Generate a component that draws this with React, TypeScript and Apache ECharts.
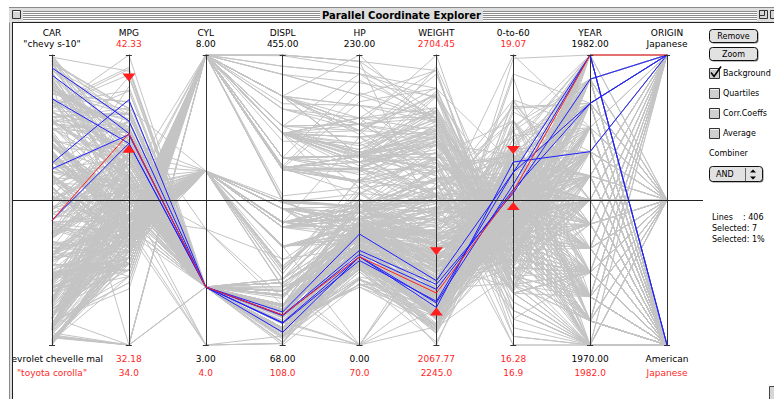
import React, { useEffect, useRef } from 'react';
import * as echarts from 'echarts';

// [name, mpg, cyl, displ, hp, weight, 0-to-60, year, origin(1 American, 2 European, 3 Japanese)]
type Car = [string, number, number, number, number, number, number, number, number];

const cars1970: Car[] = [
  ['chevrolet chevelle malibu', 18, 8, 307, 130, 3504, 12, 70, 1],
  ['buick skylark 320', 15, 8, 350, 165, 3693, 11.5, 70, 1],
  ['plymouth satellite', 18, 8, 318, 150, 3436, 11, 70, 1],
  ['amc rebel sst', 16, 8, 304, 150, 3433, 12, 70, 1],
  ['ford torino', 17, 8, 302, 140, 3449, 10.5, 70, 1],
  ['ford galaxie 500', 15, 8, 429, 198, 4341, 10, 70, 1],
  ['chevrolet impala', 14, 8, 454, 220, 4354, 9, 70, 1],
  ['plymouth fury iii', 14, 8, 440, 215, 4312, 8.5, 70, 1],
  ['pontiac catalina', 14, 8, 455, 225, 4425, 10, 70, 1],
  ['amc ambassador dpl', 15, 8, 390, 190, 3850, 8.5, 70, 1],
  ['citroen ds-21 pallas', 0, 4, 133, 115, 3090, 17.5, 70, 2],
  ['chevrolet chevelle concours (sw)', 0, 8, 350, 165, 4142, 11.5, 70, 1],
  ['ford torino (sw)', 0, 8, 351, 153, 4034, 11, 70, 1],
  ['plymouth satellite (sw)', 0, 8, 383, 175, 4166, 10.5, 70, 1],
  ['amc rebel sst (sw)', 0, 8, 360, 175, 3850, 11, 70, 1],
  ['dodge challenger se', 15, 8, 383, 170, 3563, 10, 70, 1],
  ["plymouth 'cuda 340", 14, 8, 340, 160, 3609, 8, 70, 1],
  ['ford mustang boss 302', 0, 8, 302, 140, 3353, 8, 70, 1],
  ['chevrolet monte carlo', 15, 8, 400, 150, 3761, 9.5, 70, 1],
  ['buick estate wagon (sw)', 14, 8, 455, 225, 3086, 10, 70, 1],
  ['toyota corona mark ii', 24, 4, 113, 95, 2372, 15, 70, 3],
  ['plymouth duster', 22, 6, 198, 95, 2833, 15.5, 70, 1],
  ['amc hornet', 18, 6, 199, 97, 2774, 15.5, 70, 1],
  ['ford maverick', 21, 6, 200, 85, 2587, 16, 70, 1],
  ['datsun pl510', 27, 4, 97, 88, 2130, 14.5, 70, 3],
  ['volkswagen 1131 deluxe sedan', 26, 4, 97, 46, 1835, 20.5, 70, 2],
  ['peugeot 504', 25, 4, 110, 87, 2672, 17.5, 70, 2],
  ['audi 100 ls', 24, 4, 107, 90, 2430, 14.5, 70, 2],
  ['saab 99e', 25, 4, 104, 95, 2375, 17.5, 70, 2],
  ['bmw 2002', 26, 4, 121, 113, 2234, 12.5, 70, 2],
  ['amc gremlin', 21, 6, 199, 90, 2648, 15, 70, 1],
  ['ford f250', 10, 8, 360, 215, 4615, 14, 70, 1],
  ['chevy c20', 10, 8, 307, 200, 4376, 15, 70, 1],
  ['dodge d200', 11, 8, 318, 210, 4382, 13.5, 70, 1],
  ['hi 1200d', 9, 8, 304, 193, 4732, 18.5, 70, 1],
];

const cars1971: Car[] = [
  ['datsun pl510', 27, 4, 97, 88, 2130, 14.5, 71, 3],
  ['chevrolet vega 2300', 28, 4, 140, 90, 2264, 15.5, 71, 1],
  ['toyota corona', 25, 4, 113, 95, 2228, 14, 71, 3],
  ['ford pinto', 25, 4, 98, 0, 2046, 19, 71, 1],
  ['volkswagen super beetle 117', 0, 4, 97, 48, 1978, 20, 71, 2],
  ['amc gremlin', 19, 6, 232, 100, 2634, 13, 71, 1],
  ['plymouth satellite custom', 16, 6, 225, 105, 3439, 15.5, 71, 1],
  ['chevrolet chevelle malibu', 17, 6, 250, 100, 3329, 15.5, 71, 1],
  ['ford torino 500', 19, 6, 250, 88, 3302, 15.5, 71, 1],
  ['amc matador', 18, 6, 232, 100, 3288, 15.5, 71, 1],
  ['chevrolet impala', 14, 8, 350, 165, 4209, 12, 71, 1],
  ['pontiac catalina brougham', 14, 8, 400, 175, 4464, 11.5, 71, 1],
  ['ford galaxie 500', 14, 8, 351, 153, 4154, 13.5, 71, 1],
  ['plymouth fury iii', 14, 8, 318, 150, 4096, 13, 71, 1],
  ['dodge monaco (sw)', 12, 8, 383, 180, 4955, 11.5, 71, 1],
  ['ford country squire (sw)', 13, 8, 400, 170, 4746, 12, 71, 1],
  ['pontiac safari (sw)', 13, 8, 400, 175, 5140, 12, 71, 1],
  ['amc hornet sportabout (sw)', 18, 6, 258, 110, 2962, 13.5, 71, 1],
  ['chevrolet vega (sw)', 22, 4, 140, 72, 2408, 19, 71, 1],
  ['pontiac firebird', 19, 6, 250, 100, 3282, 15, 71, 1],
  ['ford mustang', 18, 6, 250, 88, 3139, 14.5, 71, 1],
  ['mercury capri 2000', 23, 4, 122, 86, 2220, 14, 71, 1],
  ['opel 1900', 28, 4, 116, 90, 2123, 14, 71, 2],
  ['peugeot 304', 30, 4, 79, 70, 2074, 19.5, 71, 2],
  ['fiat 124b', 30, 4, 88, 76, 2065, 14.5, 71, 2],
  ['toyota corolla 1200', 31, 4, 71, 65, 1773, 19, 71, 3],
  ['datsun 1200', 35, 4, 72, 69, 1613, 18, 71, 3],
  ['volkswagen model 111', 27, 4, 97, 60, 1834, 19, 71, 2],
  ['plymouth cricket', 26, 4, 91, 70, 1955, 20.5, 71, 1],
];

const cars1972: Car[] = [
  ['toyota corona hardtop', 24, 4, 113, 95, 2278, 15.5, 72, 3],
  ['dodge colt hardtop', 25, 4, 97.5, 80, 2126, 17, 72, 1],
  ['volkswagen type 3', 23, 4, 97, 54, 2254, 23.5, 72, 2],
  ['chevrolet vega', 20, 4, 140, 90, 2408, 19.5, 72, 1],
  ['ford pinto runabout', 21, 4, 122, 86, 2226, 16.5, 72, 1],
  ['chevrolet impala', 13, 8, 350, 165, 4274, 12, 72, 1],
  ['pontiac catalina', 14, 8, 400, 175, 4385, 12, 72, 1],
  ['plymouth fury iii', 15, 8, 318, 150, 4135, 13.5, 72, 1],
  ['ford galaxie 500', 14, 8, 351, 153, 4129, 13, 72, 1],
  ['amc ambassador sst', 17, 8, 304, 150, 3672, 11.5, 72, 1],
  ['mercury marquis', 11, 8, 429, 208, 4633, 11, 72, 1],
  ['buick lesabre custom', 13, 8, 350, 155, 4502, 13.5, 72, 1],
  ['oldsmobile delta 88 royale', 12, 8, 350, 160, 4456, 13.5, 72, 1],
  ['chrysler newport royal', 13, 8, 400, 190, 4422, 12.5, 72, 1],
  ['mazda rx2 coupe', 19, 3, 70, 97, 2330, 13.5, 72, 3],
  ['amc matador (sw)', 15, 8, 304, 150, 3892, 12.5, 72, 1],
  ['chevrolet chevelle concours (sw)', 13, 8, 307, 130, 4098, 14, 72, 1],
  ['ford gran torino (sw)', 13, 8, 302, 140, 4294, 16, 72, 1],
  ['plymouth satellite custom (sw)', 14, 8, 318, 150, 4077, 14, 72, 1],
  ['volvo 145e (sw)', 18, 4, 121, 112, 2933, 14.5, 72, 2],
  ['volkswagen 411 (sw)', 22, 4, 121, 76, 2511, 18, 72, 2],
  ['peugeot 504 (sw)', 21, 4, 120, 87, 2979, 19.5, 72, 2],
  ['renault 12 (sw)', 26, 4, 96, 69, 2189, 18, 72, 2],
  ['ford pinto (sw)', 22, 4, 122, 86, 2395, 16, 72, 1],
  ['datsun 510 (sw)', 28, 4, 97, 92, 2288, 17, 72, 3],
  ['toyouta corona mark ii (sw)', 23, 4, 120, 97, 2506, 14.5, 72, 3],
  ['dodge colt (sw)', 28, 4, 98, 80, 2164, 15, 72, 1],
  ['toyota corolla 1600 (sw)', 27, 4, 97, 88, 2100, 16.5, 72, 3],
];

const cars1973: Car[] = [
  ['buick century 350', 13, 8, 350, 175, 4100, 13, 73, 1],
  ['amc matador', 14, 8, 304, 150, 3672, 11.5, 73, 1],
  ['chevrolet malibu', 13, 8, 350, 145, 3988, 13, 73, 1],
  ['ford gran torino', 14, 8, 302, 137, 4042, 14.5, 73, 1],
  ['dodge coronet custom', 15, 8, 318, 150, 3777, 12.5, 73, 1],
  ['mercury marquis brougham', 12, 8, 429, 198, 4952, 11.5, 73, 1],
  ['chevrolet caprice classic', 13, 8, 400, 150, 4464, 12, 73, 1],
  ['ford ltd', 13, 8, 351, 158, 4363, 13, 73, 1],
  ['plymouth fury gran sedan', 14, 8, 318, 150, 4237, 14.5, 73, 1],
  ['chrysler new yorker brougham', 13, 8, 440, 215, 4735, 11, 73, 1],
  ['buick electra 225 custom', 12, 8, 455, 225, 4951, 11, 73, 1],
  ['amc ambassador brougham', 13, 8, 360, 175, 3821, 11, 73, 1],
  ['plymouth valiant', 18, 6, 225, 105, 3121, 16.5, 73, 1],
  ['chevrolet nova custom', 16, 6, 250, 100, 3278, 18, 73, 1],
  ['amc hornet', 18, 6, 232, 100, 2945, 16, 73, 1],
  ['ford maverick', 18, 6, 250, 88, 3021, 16.5, 73, 1],
  ['plymouth duster', 23, 6, 198, 95, 2904, 16, 73, 1],
  ['volkswagen super beetle', 26, 4, 97, 46, 1950, 21, 73, 2],
  ['chevrolet impala', 11, 8, 400, 150, 4997, 14, 73, 1],
  ['ford country', 12, 8, 400, 167, 4906, 12.5, 73, 1],
  ['plymouth custom suburb', 13, 8, 360, 170, 4654, 13, 73, 1],
  ['oldsmobile vista cruiser', 12, 8, 350, 180, 4499, 12.5, 73, 1],
  ['amc gremlin', 18, 6, 232, 100, 2789, 15, 73, 1],
  ['toyota carina', 20, 4, 97, 88, 2279, 19, 73, 3],
  ['chevrolet vega', 21, 4, 140, 72, 2401, 19.5, 73, 1],
  ['datsun 610', 22, 4, 108, 94, 2379, 16.5, 73, 3],
  ['maxda rx3', 18, 3, 70, 90, 2124, 13.5, 73, 3],
  ['ford pinto', 19, 4, 122, 85, 2310, 18.5, 73, 1],
  ['mercury capri v6', 21, 6, 155, 107, 2472, 14, 73, 1],
  ['fiat 124 sport coupe', 26, 4, 98, 90, 2265, 15.5, 73, 2],
  ['chevrolet monte carlo s', 15, 8, 350, 145, 4082, 13, 73, 1],
  ['pontiac grand prix', 16, 8, 400, 230, 4278, 9.5, 73, 1],
  ['fiat 128', 29, 4, 68, 49, 1867, 19.5, 73, 2],
  ['opel manta', 24, 4, 116, 75, 2158, 15.5, 73, 2],
  ['audi 100ls', 20, 4, 114, 91, 2582, 14, 73, 2],
  ['volvo 144ea', 19, 4, 121, 112, 2868, 15.5, 73, 2],
  ['dodge dart custom', 15, 8, 318, 150, 3399, 11, 73, 1],
  ['saab 99le', 24, 4, 121, 110, 2660, 14, 73, 2],
  ['toyota mark ii', 20, 6, 156, 122, 2807, 13.5, 73, 3],
  ['oldsmobile omega', 11, 8, 350, 180, 3664, 11, 73, 1],
];

const cars1974: Car[] = [
  ['plymouth duster', 20, 6, 198, 95, 3102, 16.5, 74, 1],
  ['ford maverick', 21, 6, 200, 0, 2875, 17, 74, 1],
  ['amc hornet', 19, 6, 232, 100, 2901, 16, 74, 1],
  ['chevrolet nova', 15, 6, 250, 100, 3336, 17, 74, 1],
  ['datsun b210', 31, 4, 79, 67, 1950, 19, 74, 3],
  ['ford pinto', 26, 4, 122, 80, 2451, 16.5, 74, 1],
  ['toyota corolla 1200', 32, 4, 71, 65, 1836, 21, 74, 3],
  ['chevrolet vega', 25, 4, 140, 75, 2542, 17, 74, 1],
  ['chevrolet chevelle malibu classic', 16, 6, 250, 100, 3781, 17, 74, 1],
  ['amc matador', 16, 6, 258, 110, 3632, 18, 74, 1],
  ['plymouth satellite sebring', 18, 6, 225, 105, 3613, 16.5, 74, 1],
  ['ford gran torino', 16, 8, 302, 140, 4141, 14, 74, 1],
  ['buick century luxus (sw)', 13, 8, 350, 150, 4699, 14.5, 74, 1],
  ['dodge coronet custom (sw)', 14, 8, 318, 150, 4457, 13.5, 74, 1],
  ['ford gran torino (sw)', 14, 8, 302, 140, 4638, 16, 74, 1],
  ['amc matador (sw)', 14, 8, 304, 150, 4257, 15.5, 74, 1],
  ['audi fox', 29, 4, 98, 83, 2219, 16.5, 74, 2],
  ['volkswagen dasher', 26, 4, 79, 67, 1963, 15.5, 74, 2],
  ['opel manta', 26, 4, 97, 78, 2300, 14.5, 74, 2],
  ['toyota corona', 31, 4, 76, 52, 1649, 16.5, 74, 3],
  ['datsun 710', 32, 4, 83, 61, 2003, 19, 74, 3],
  ['dodge colt', 28, 4, 90, 75, 2125, 14.5, 74, 1],
  ['fiat 128', 24, 4, 90, 75, 2108, 15.5, 74, 2],
  ['fiat 124 tc', 26, 4, 116, 75, 2246, 14, 74, 2],
  ['honda civic', 24, 4, 120, 97, 2489, 15, 74, 3],
  ['subaru', 26, 4, 108, 93, 2391, 15.5, 74, 3],
  ['fiat x1.9', 31, 4, 79, 67, 2000, 16, 74, 2],
];

const cars1975: Car[] = [
  ['plymouth valiant custom', 19, 6, 225, 95, 3264, 16, 75, 1],
  ['chevrolet nova', 18, 6, 250, 105, 3459, 16, 75, 1],
  ['mercury monarch', 15, 6, 250, 72, 3432, 21, 75, 1],
  ['ford maverick', 15, 6, 250, 72, 3158, 19.5, 75, 1],
  ['pontiac catalina', 16, 8, 400, 170, 4668, 11.5, 75, 1],
  ['chevrolet bel air', 15, 8, 350, 145, 4440, 14, 75, 1],
  ['plymouth grand fury', 16, 8, 318, 150, 4498, 14.5, 75, 1],
  ['ford ltd', 14, 8, 351, 148, 4657, 13.5, 75, 1],
  ['buick century', 17, 6, 231, 110, 3907, 21, 75, 1],
  ['chevroelt chevelle malibu', 16, 6, 250, 105, 3897, 18.5, 75, 1],
  ['amc matador', 15, 6, 258, 110, 3730, 19, 75, 1],
  ['plymouth fury', 18, 6, 225, 95, 3785, 19, 75, 1],
  ['buick skyhawk', 21, 6, 231, 110, 3039, 15, 75, 1],
  ['chevrolet monza 2+2', 20, 8, 262, 110, 3221, 13.5, 75, 1],
  ['ford mustang ii', 13, 8, 302, 129, 3169, 12, 75, 1],
  ['toyota corolla', 29, 4, 97, 75, 2171, 16, 75, 3],
  ['ford pinto', 23, 4, 140, 83, 2639, 17, 75, 1],
  ['amc gremlin', 20, 6, 232, 100, 2914, 16, 75, 1],
  ['pontiac astro', 23, 4, 140, 78, 2592, 18.5, 75, 1],
  ['toyota corona', 24, 4, 134, 96, 2702, 13.5, 75, 3],
  ['volkswagen dasher', 25, 4, 90, 71, 2223, 16.5, 75, 2],
  ['datsun 710', 24, 4, 119, 97, 2545, 17, 75, 3],
  ['ford pinto', 18, 6, 171, 97, 2984, 14.5, 75, 1],
  ['volkswagen rabbit', 29, 4, 90, 70, 1937, 14, 75, 2],
  ['amc pacer', 19, 6, 232, 90, 3211, 17, 75, 1],
  ['audi 100ls', 23, 4, 115, 95, 2694, 15, 75, 2],
  ['peugeot 504', 23, 4, 120, 88, 2957, 17, 75, 2],
  ['volvo 244dl', 22, 4, 121, 98, 2945, 14.5, 75, 2],
  ['saab 99le', 25, 4, 121, 115, 2671, 13.5, 75, 2],
  ['honda civic cvcc', 33, 4, 91, 53, 1795, 17.5, 75, 3],
];

const cars1976: Car[] = [
  ['fiat 131', 28, 4, 107, 86, 2464, 15.5, 76, 2],
  ['opel 1900', 25, 4, 116, 81, 2220, 16.9, 76, 2],
  ['capri ii', 25, 4, 140, 92, 2572, 14.9, 76, 1],
  ['dodge colt', 26, 4, 98, 79, 2255, 17.7, 76, 1],
  ['renault 12tl', 27, 4, 101, 83, 2202, 15.3, 76, 2],
  ['chevrolet chevelle malibu classic', 17.5, 8, 305, 140, 4215, 13, 76, 1],
  ['dodge coronet brougham', 16, 8, 318, 150, 4190, 13, 76, 1],
  ['amc matador', 15.5, 8, 304, 120, 3962, 13.9, 76, 1],
  ['ford gran torino', 14.5, 8, 351, 152, 4215, 12.8, 76, 1],
  ['plymouth valiant', 22, 6, 225, 100, 3233, 15.4, 76, 1],
  ['chevrolet nova', 22, 6, 250, 105, 3353, 14.5, 76, 1],
  ['ford maverick', 24, 6, 200, 81, 3012, 17.6, 76, 1],
  ['amc hornet', 22.5, 6, 232, 90, 3085, 17.6, 76, 1],
  ['chevrolet chevette', 29, 4, 85, 52, 2035, 22.2, 76, 1],
  ['chevrolet woody', 24.5, 4, 98, 60, 2164, 22.1, 76, 1],
  ['vw rabbit', 29, 4, 90, 70, 1937, 14.2, 76, 2],
  ['honda civic', 33, 4, 91, 53, 1795, 17.4, 76, 3],
  ['dodge aspen se', 20, 6, 225, 100, 3651, 17.7, 76, 1],
  ['ford granada ghia', 18, 6, 250, 78, 3574, 21, 76, 1],
  ['pontiac ventura sj', 18.5, 6, 250, 110, 3645, 16.2, 76, 1],
  ['amc pacer d/l', 17.5, 6, 258, 95, 3193, 17.8, 76, 1],
  ['volkswagen rabbit', 29.5, 4, 97, 71, 1825, 12.2, 76, 2],
  ['datsun b-210', 32, 4, 85, 70, 1990, 17, 76, 3],
  ['toyota corolla', 28, 4, 97, 75, 2155, 16.4, 76, 3],
  ['ford pinto', 26.5, 4, 140, 72, 2565, 13.6, 76, 1],
  ['volvo 245', 20, 4, 130, 102, 3150, 15.7, 76, 2],
  ['plymouth volare premier v8', 13, 8, 318, 150, 3940, 13.2, 76, 1],
  ['peugeot 504', 19, 4, 120, 88, 3270, 21.9, 76, 2],
  ['toyota mark ii', 19, 6, 156, 108, 2930, 15.5, 76, 3],
  ['mercedes-benz 280s', 16.5, 6, 168, 120, 3820, 16.7, 76, 2],
  ['cadillac seville', 16.5, 8, 350, 180, 4380, 12.1, 76, 1],
  ['chevy c10', 13, 8, 350, 145, 4055, 12, 76, 1],
  ['ford f108', 13, 8, 302, 130, 3870, 15, 76, 1],
  ['dodge d100', 13, 8, 318, 150, 3755, 14, 76, 1],
];

const cars1977: Car[] = [
  ['honda accord cvcc', 31.5, 4, 98, 68, 2045, 18.5, 77, 3],
  ['buick opel isuzu deluxe', 30, 4, 111, 80, 2155, 14.8, 77, 1],
  ['renault 5 gtl', 36, 4, 79, 58, 1825, 18.6, 77, 2],
  ['plymouth arrow gs', 25.5, 4, 122, 96, 2300, 15.5, 77, 1],
  ['datsun f-10 hatchback', 33.5, 4, 85, 70, 1945, 16.8, 77, 3],
  ['chevrolet caprice classic', 17.5, 8, 305, 145, 3880, 12.5, 77, 1],
  ['oldsmobile cutlass supreme', 17, 8, 260, 110, 4060, 19, 77, 1],
  ['dodge monaco brougham', 15.5, 8, 318, 145, 4140, 13.7, 77, 1],
  ['mercury cougar brougham', 15, 8, 302, 130, 4295, 14.9, 77, 1],
  ['chevrolet concours', 17.5, 6, 250, 110, 3520, 16.4, 77, 1],
  ['buick skylark', 20.5, 6, 231, 105, 3425, 16.9, 77, 1],
  ['plymouth volare custom', 19, 6, 225, 100, 3630, 17.7, 77, 1],
  ['ford granada', 18.5, 6, 250, 98, 3525, 19, 77, 1],
  ['pontiac grand prix lj', 16, 8, 400, 180, 4220, 11.1, 77, 1],
  ['chevrolet monte carlo landau', 15.5, 8, 350, 170, 4165, 11.4, 77, 1],
  ['chrysler cordoba', 15.5, 8, 400, 190, 4325, 12.2, 77, 1],
  ['ford thunderbird', 16, 8, 351, 149, 4335, 14.5, 77, 1],
  ['volkswagen rabbit custom', 29, 4, 97, 78, 1940, 14.5, 77, 2],
  ['pontiac sunbird coupe', 24.5, 4, 151, 88, 2740, 16, 77, 1],
  ['toyota corolla liftback', 26, 4, 97, 75, 2265, 18.2, 77, 3],
  ['ford mustang ii 2+2', 25.5, 4, 140, 89, 2755, 15.8, 77, 1],
  ['chevrolet chevette', 30.5, 4, 98, 63, 2051, 17, 77, 1],
  ['dodge colt m/m', 33.5, 4, 98, 83, 2075, 15.9, 77, 1],
  ['subaru dl', 30, 4, 97, 67, 1985, 16.4, 77, 3],
  ['volkswagen dasher', 30.5, 4, 97, 78, 2190, 14.1, 77, 2],
  ['datsun 810', 22, 6, 146, 97, 2815, 14.5, 77, 3],
  ['bmw 320i', 21.5, 4, 121, 110, 2600, 12.8, 77, 2],
  ['mazda rx-4', 21.5, 3, 80, 110, 2720, 13.5, 77, 3],
];

const cars1978: Car[] = [
  ['volkswagen rabbit custom diesel', 43.1, 4, 90, 48, 1985, 21.5, 78, 2],
  ['ford fiesta', 36.1, 4, 98, 66, 1800, 14.4, 78, 1],
  ['mazda glc deluxe', 32.8, 4, 78, 52, 1985, 19.4, 78, 3],
  ['datsun b210 gx', 39.4, 4, 85, 70, 2070, 18.6, 78, 3],
  ['honda civic cvcc', 36.1, 4, 91, 60, 1800, 16.4, 78, 3],
  ['oldsmobile cutlass salon brougham', 19.9, 8, 260, 110, 3365, 15.5, 78, 1],
  ['dodge diplomat', 19.4, 8, 318, 140, 3735, 13.2, 78, 1],
  ['mercury monarch ghia', 20.2, 8, 302, 139, 3570, 12.8, 78, 1],
  ['pontiac phoenix lj', 19.2, 6, 231, 105, 3535, 19.2, 78, 1],
  ['chevrolet malibu', 20.5, 6, 200, 95, 3155, 18.2, 78, 1],
  ['ford fairmont (auto)', 20.2, 6, 200, 85, 2965, 15.8, 78, 1],
  ['ford fairmont (man)', 25.1, 4, 140, 88, 2720, 15.4, 78, 1],
  ['plymouth volare', 20.5, 6, 225, 100, 3430, 17.2, 78, 1],
  ['amc concord', 19.4, 6, 232, 90, 3210, 17.2, 78, 1],
  ['buick century special', 20.6, 6, 231, 105, 3380, 15.8, 78, 1],
  ['mercury zephyr', 20.8, 6, 200, 85, 3070, 16.7, 78, 1],
  ['dodge aspen', 18.6, 6, 225, 110, 3620, 18.7, 78, 1],
  ['amc concord d/l', 18.1, 6, 258, 120, 3410, 15.1, 78, 1],
  ['chevrolet monte carlo landau', 19.2, 8, 305, 145, 3425, 13.2, 78, 1],
  ['buick regal sport coupe (turbo)', 17.7, 6, 231, 165, 3445, 13.4, 78, 1],
  ['ford futura', 18.1, 8, 302, 139, 3205, 11.2, 78, 1],
  ['dodge magnum xe', 17.5, 8, 318, 140, 4080, 13.7, 78, 1],
  ['chevrolet chevette', 30, 4, 98, 68, 2155, 16.5, 78, 1],
  ['toyota corona', 27.5, 4, 134, 95, 2560, 14.2, 78, 3],
  ['datsun 510', 27.2, 4, 119, 97, 2300, 14.7, 78, 3],
  ['dodge omni', 30.9, 4, 105, 75, 2230, 14.5, 78, 1],
  ['toyota celica gt liftback', 21.1, 4, 134, 95, 2515, 14.8, 78, 3],
  ['plymouth sapporo', 23.2, 4, 156, 105, 2745, 16.7, 78, 1],
  ['oldsmobile starfire sx', 23.8, 4, 151, 85, 2855, 17.6, 78, 1],
  ['datsun 200-sx', 23.9, 4, 119, 97, 2405, 14.9, 78, 3],
  ['audi 5000', 20.3, 5, 131, 103, 2830, 15.9, 78, 2],
  ['volvo 264gl', 17, 6, 163, 125, 3140, 13.6, 78, 2],
  ['saab 99gle', 21.6, 4, 121, 115, 2795, 15.7, 78, 2],
  ['peugeot 604sl', 16.2, 6, 163, 133, 3410, 15.8, 78, 2],
  ['volkswagen scirocco', 31.5, 4, 89, 71, 1990, 14.9, 78, 2],
  ['honda accord lx', 29.5, 4, 98, 68, 2135, 16.6, 78, 3],
];

const cars1979: Car[] = [
  ['pontiac lemans v6', 21.5, 6, 231, 115, 3245, 15.4, 79, 1],
  ['mercury zephyr 6', 19.8, 6, 200, 85, 2990, 18.2, 79, 1],
  ['ford fairmont 4', 22.3, 4, 140, 88, 2890, 17.3, 79, 1],
  ['amc concord dl 6', 20.2, 6, 232, 90, 3265, 18.2, 79, 1],
  ['dodge aspen 6', 20.6, 6, 225, 110, 3360, 16.6, 79, 1],
  ['chevrolet caprice classic', 17, 8, 305, 130, 3840, 15.4, 79, 1],
  ['ford ltd landau', 17.6, 8, 302, 129, 3725, 13.4, 79, 1],
  ['mercury grand marquis', 16.5, 8, 351, 138, 3955, 13.2, 79, 1],
  ['dodge st. regis', 18.2, 8, 318, 135, 3830, 15.2, 79, 1],
  ['buick estate wagon (sw)', 16.9, 8, 350, 155, 4360, 14.9, 79, 1],
  ['ford country squire (sw)', 15.5, 8, 351, 142, 4054, 14.3, 79, 1],
  ['chevrolet malibu classic (sw)', 19.2, 8, 267, 125, 3605, 15, 79, 1],
  ['chrysler lebaron town @ country (sw)', 18.5, 8, 360, 150, 3940, 13, 79, 1],
  ['vw rabbit custom', 31.9, 4, 89, 71, 1925, 14, 79, 2],
  ['maxda glc deluxe', 34.1, 4, 86, 65, 1975, 15.2, 79, 3],
  ['dodge colt hatchback custom', 35.7, 4, 98, 80, 1915, 14.4, 79, 1],
  ['amc spirit dl', 27.4, 4, 121, 80, 2670, 15, 79, 1],
  ['mercedes benz 300d', 25.4, 5, 183, 77, 3530, 20.1, 79, 2],
  ['cadillac eldorado', 23, 8, 350, 125, 3900, 17.4, 79, 1],
  ['peugeot 504', 27.2, 4, 141, 71, 3190, 24.8, 79, 2],
  ['oldsmobile cutlass salon brougham', 23.9, 8, 260, 90, 3420, 22.2, 79, 1],
  ['plymouth horizon', 34.2, 4, 105, 70, 2200, 13.2, 79, 1],
  ['plymouth horizon tc3', 34.5, 4, 105, 70, 2150, 14.9, 79, 1],
  ['datsun 210', 31.8, 4, 85, 65, 2020, 19.2, 79, 3],
  ['fiat strada custom', 37.3, 4, 91, 69, 2130, 14.7, 79, 2],
  ['buick skylark limited', 28.4, 4, 151, 90, 2670, 16, 79, 1],
  ['chevrolet citation', 28.8, 6, 173, 115, 2595, 11.3, 79, 1],
  ['oldsmobile omega brougham', 26.8, 6, 173, 115, 2700, 12.9, 79, 1],
  ['pontiac phoenix', 33.5, 4, 151, 90, 2556, 13.2, 79, 1],
];

const cars1980: Car[] = [
  ['vw rabbit', 41.5, 4, 98, 76, 2144, 14.7, 80, 2],
  ['toyota corolla tercel', 38.1, 4, 89, 60, 1968, 18.8, 80, 3],
  ['chevrolet chevette', 32.1, 4, 98, 70, 2120, 15.5, 80, 1],
  ['datsun 310', 37.2, 4, 86, 65, 2019, 16.4, 80, 3],
  ['chevrolet citation', 28, 4, 151, 90, 2678, 16.5, 80, 1],
  ['ford fairmont', 26.4, 4, 140, 88, 2870, 18.1, 80, 1],
  ['amc concord', 24.3, 4, 151, 90, 3003, 20.1, 80, 1],
  ['dodge aspen', 19.1, 6, 225, 90, 3381, 18.7, 80, 1],
  ['audi 4000', 34.3, 4, 97, 78, 2188, 15.8, 80, 2],
  ['toyota corona liftback', 29.8, 4, 134, 90, 2711, 15.5, 80, 3],
  ['mazda 626', 31.3, 4, 120, 75, 2542, 17.5, 80, 3],
  ['datsun 510 hatchback', 37, 4, 119, 92, 2434, 15, 80, 3],
  ['toyota corolla', 32.2, 4, 108, 75, 2265, 15.2, 80, 3],
  ['mazda glc', 46.6, 4, 86, 65, 2110, 17.9, 80, 3],
  ['dodge colt', 27.9, 4, 156, 105, 2800, 14.4, 80, 1],
  ['datsun 210', 40.8, 4, 85, 65, 2110, 19.2, 80, 3],
  ['vw rabbit c (diesel)', 44.3, 4, 90, 48, 2085, 21.7, 80, 2],
  ['vw dasher (diesel)', 43.4, 4, 90, 48, 2335, 23.7, 80, 2],
  ['audi 5000s (diesel)', 36.4, 5, 121, 67, 2950, 19.9, 80, 2],
  ['mercedes-benz 240d', 30, 4, 146, 67, 3250, 21.8, 80, 2],
  ['honda civic 1500 gl', 44.6, 4, 91, 67, 1850, 13.8, 80, 3],
  ['renault lecar deluxe', 40.9, 4, 85, 0, 1835, 17.3, 80, 2],
  ['subaru dl', 33.8, 4, 97, 67, 2145, 18, 80, 3],
  ['vokswagen rabbit', 29.8, 4, 89, 62, 1845, 15.3, 80, 2],
  ['datsun 280-zx', 32.7, 6, 168, 132, 2910, 11.4, 80, 3],
  ['mazda rx-7 gs', 23.7, 3, 70, 100, 2420, 12.5, 80, 3],
  ['triumph tr7 coupe', 35, 4, 122, 88, 2500, 15.1, 80, 2],
  ['ford mustang cobra', 23.6, 4, 140, 0, 2905, 14.3, 80, 1],
  ['honda accord', 32.4, 4, 107, 72, 2290, 17, 80, 3],
];

const cars1981: Car[] = [
  ['plymouth reliant', 27.2, 4, 135, 84, 2490, 15.7, 81, 1],
  ['buick skylark', 26.6, 4, 151, 84, 2635, 16.4, 81, 1],
  ['dodge aries wagon (sw)', 25.8, 4, 156, 92, 2620, 14.4, 81, 1],
  ['chevrolet citation', 23.5, 6, 173, 110, 2725, 12.6, 81, 1],
  ['plymouth reliant', 30, 4, 135, 84, 2385, 12.9, 81, 1],
  ['toyota starlet', 39.1, 4, 79, 58, 1755, 16.9, 81, 3],
  ['plymouth champ', 39, 4, 86, 64, 1875, 16.4, 81, 1],
  ['honda civic 1300', 35.1, 4, 81, 60, 1760, 16.1, 81, 3],
  ['subaru', 32.3, 4, 97, 67, 2065, 17.8, 81, 3],
  ['datsun 210 mpg', 37, 4, 85, 65, 1975, 19.4, 81, 3],
  ['toyota tercel', 37.7, 4, 89, 62, 2050, 17.3, 81, 3],
  ['mazda glc 4', 34.1, 4, 91, 68, 1985, 16, 81, 3],
  ['plymouth horizon 4', 34.7, 4, 105, 63, 2215, 14.9, 81, 1],
  ['ford escort 4w', 34.4, 4, 98, 65, 2045, 16.2, 81, 1],
  ['ford escort 2h', 29.9, 4, 98, 65, 2380, 20.7, 81, 1],
  ['volkswagen jetta', 33, 4, 105, 74, 2190, 14.2, 81, 2],
  ['renault 18i', 34.5, 4, 100, 0, 2320, 15.8, 81, 2],
  ['honda prelude', 33.7, 4, 107, 75, 2210, 14.4, 81, 3],
  ['toyota corolla', 32.4, 4, 108, 75, 2350, 16.8, 81, 3],
  ['datsun 200sx', 32.9, 4, 119, 100, 2615, 14.8, 81, 3],
  ['mazda 626', 31.6, 4, 120, 74, 2635, 18.3, 81, 3],
  ['peugeot 505s turbo diesel', 28.1, 4, 141, 80, 3230, 20.4, 81, 2],
  ['saab 900s', 0, 4, 121, 110, 2800, 15.4, 81, 2],
  ['volvo diesel', 30.7, 6, 145, 76, 3160, 19.6, 81, 2],
  ['toyota cressida', 25.4, 6, 168, 116, 2900, 12.6, 81, 3],
  ['datsun 810 maxima', 24.2, 6, 146, 120, 2930, 13.8, 81, 3],
  ['buick century', 22.4, 6, 231, 110, 3415, 15.8, 81, 1],
  ['oldsmobile cutlass ls', 26.6, 8, 350, 105, 3725, 19, 81, 1],
  ['ford granada gl', 20.2, 6, 200, 88, 3060, 17.1, 81, 1],
  ['chrysler lebaron salon', 17.6, 6, 225, 85, 3465, 16.6, 81, 1],
];

const cars1982: Car[] = [
  ['chevrolet cavalier', 28, 4, 112, 88, 2605, 19.6, 82, 1],
  ['chevrolet cavalier wagon', 27, 4, 112, 88, 2640, 18.6, 82, 1],
  ['chevrolet cavalier 2-door', 34, 4, 112, 88, 2395, 18, 82, 1],
  ['pontiac j2000 se hatchback', 31, 4, 112, 85, 2575, 16.2, 82, 1],
  ['dodge aries se', 29, 4, 135, 84, 2525, 16, 82, 1],
  ['pontiac phoenix', 27, 4, 151, 90, 2735, 18, 82, 1],
  ['ford fairmont futura', 24, 4, 140, 92, 2865, 16.4, 82, 1],
  ['amc concord dl', 23, 4, 151, 0, 3035, 20.5, 82, 1],
  ['volkswagen rabbit l', 36, 4, 105, 74, 1980, 15.3, 82, 2],
  ['mazda glc custom l', 37, 4, 91, 68, 2025, 18.2, 82, 3],
  ['mazda glc custom', 31, 4, 91, 68, 1970, 17.6, 82, 3],
  ['plymouth horizon miser', 38, 4, 105, 63, 2125, 14.7, 82, 1],
  ['mercury lynx l', 36, 4, 98, 70, 2125, 17.3, 82, 1],
  ['nissan stanza xe', 36, 4, 120, 88, 2160, 14.5, 82, 3],
  ['honda accord', 36, 4, 107, 75, 2205, 14.5, 82, 3],
  ['toyota corolla', 34, 4, 108, 70, 2245, 16.9, 82, 3],
  ['honda civic', 38, 4, 91, 67, 1965, 15, 82, 3],
  ['honda civic (auto)', 32, 4, 91, 67, 1965, 15.7, 82, 3],
  ['datsun 310 gx', 38, 4, 91, 67, 1995, 16.2, 82, 3],
  ['buick century limited', 25, 6, 181, 110, 2945, 16.4, 82, 1],
  ['oldsmobile cutlass ciera (diesel)', 38, 6, 262, 85, 3015, 17, 82, 1],
  ['chrysler lebaron medallion', 26, 4, 156, 92, 2585, 14.5, 82, 1],
  ['ford granada l', 22, 6, 232, 112, 2835, 14.7, 82, 1],
  ['toyota celica gt', 32, 4, 144, 96, 2665, 13.9, 82, 3],
  ['dodge charger 2.2', 36, 4, 135, 84, 2370, 13, 82, 1],
  ['chevrolet camaro', 27, 4, 151, 90, 2950, 17.3, 82, 1],
  ['ford mustang gl', 27, 4, 140, 86, 2790, 15.6, 82, 1],
  ['vw pickup', 44, 4, 97, 52, 2130, 24.6, 82, 2],
  ['dodge rampage', 32, 4, 135, 84, 2295, 11.6, 82, 1],
  ['ford ranger', 28, 4, 120, 79, 2625, 18.6, 82, 1],
  ['chevy s-10', 31, 4, 119, 82, 2720, 19.4, 82, 1],
];

const dimensionNames = ['CAR', 'MPG', 'CYL', 'DISPL', 'HP', 'WEIGHT', '0-to-60', 'YEAR', 'ORIGIN'];
const numericMins = [0, 0, 3, 68, 0, 1613, 8, 70, 1];
const numericMaxs = [0, 46.6, 8, 455, 230, 5140, 24.8, 82, 3];
const originNames = ['American', 'European', 'Japanese'];
const brushRanges: ([number, number] | null)[] = [null, [32.18, 42.33], null, null, null, [2067.77, 2704.45], [16.28, 19.07], null, null];
const highlightedCar = { name: 'toyota corolla', year: 82 };
const sidePanelChecks = [
  { label: 'Background', checked: true },
  { label: 'Quartiles', checked: false },
  { label: 'Corr.Coeffs', checked: false },
  { label: 'Average', checked: false },
];
const sideButtons = ['Remove', 'Zoom'];
const combinerValue = 'AND';

const allCars: Car[] = [
  ...cars1970, ...cars1971, ...cars1972, ...cars1973, ...cars1974, ...cars1975, ...cars1976,
  ...cars1977, ...cars1978, ...cars1979, ...cars1980, ...cars1981, ...cars1982,
];

const W = 774, H = 399;
const P_LEFT = 52, P_RIGHT = 107, P_TOP = 55, P_BOTTOM = 54;
const FONT = '"DejaVu Sans", sans-serif';
const GRAY = '#c4c4c4', BLUE = '#1f1fff', RED = '#ff1f1f', AXIS = '#333333';

function buildOption() {
  const N = allCars.length;
  const firstIndex = new Map<string, number>();
  allCars.forEach((c, i) => { if (!firstIndex.has(c[0])) firstIndex.set(c[0], i); });
  const mins = numericMins.slice(); const maxs = numericMaxs.slice();
  mins[0] = 0; maxs[0] = N - 1;
  const toRow = (c: Car) => [firstIndex.get(c[0]) as number, c[1], c[2], c[3], c[4], c[5], c[6], c[7], c[8]];

  const isSelected = (c: Car) => brushRanges.every((r, d) => {
    if (!r) return true;
    const v = toRow(c)[d];
    return v >= r[0] && v <= r[1];
  });
  const isHighlight = (c: Car) => c[0] === highlightedCar.name && c[7] === highlightedCar.year;

  const gray: number[][] = [], blue: number[][] = [], red: number[][] = [];
  let selCount = 0;
  allCars.forEach((c) => {
    const sel = isSelected(c);
    if (sel) selCount++;
    if (isHighlight(c)) red.push(toRow(c));
    else if (sel) blue.push(toRow(c));
    else gray.push(toRow(c));
  });
  const hl = allCars.find(isHighlight) as Car;

  const nAx = dimensionNames.length;
  const step = (W - P_LEFT - P_RIGHT) / (nAx - 1);
  const axX = (i: number) => P_LEFT + i * step;
  const len = H - P_TOP - P_BOTTOM;
  const yOf = (d: number, v: number) => P_TOP + (1 - (v - mins[d]) / (maxs[d] - mins[d])) * len;

  const g: any[] = [];
  const txt = (x: number, y: number, s: string, fill = '#000', align = 'center', font = `9px ${FONT}`) =>
    g.push({ type: 'text', z: 100, x, y, silent: true, style: { text: s, fill, font, align, verticalAlign: 'middle', textAlign: align, textVerticalAlign: 'middle' } });
  const ln = (x1: number, y1: number, x2: number, y2: number, stroke = '#000', w = 1) =>
    g.push({ type: 'line', z: 100, silent: true, shape: { x1, y1, x2, y2 }, style: { stroke, lineWidth: w } });
  const rc = (x: number, y: number, w: number, h: number, fill: string, stroke?: string, r = 0) =>
    g.push({ type: 'rect', z: 100, silent: true, shape: { x, y, width: w, height: h, r }, style: { fill, stroke: stroke || null, lineWidth: 1 } });
  const poly = (pts: number[][], fill: string) =>
    g.push({ type: 'polygon', z: 100, silent: true, shape: { points: pts }, style: { fill } });

  // header / footer texts
  const fmtYear = (v: number) => (1900 + v).toFixed(2);
  dimensionNames.forEach((name, d) => {
    const x = axX(d);
    txt(x, 33, name);
    let top: string, bot: string, col = '#000';
    if (d === 0) { top = `"${allCars[N - 1][0]}"`; bot = allCars[0][0].slice(0, 22); }
    else if (brushRanges[d]) { top = brushRanges[d]![1].toFixed(2); bot = brushRanges[d]![0].toFixed(2); col = RED; }
    else if (d === 7) { top = fmtYear(maxs[d]); bot = fmtYear(mins[d]); }
    else if (d === 8) { top = originNames[maxs[d] - 1]; bot = originNames[mins[d] - 1]; }
    else { top = maxs[d].toFixed(2); bot = mins[d].toFixed(2); }
    txt(x, 44, top, col);
    txt(x, 359, bot, col);
    let rv: string;
    if (d === 0) rv = `"${hl[0]}"`;
    else if (d === 7) rv = (1900 + hl[7]).toFixed(1);
    else if (d === 8) rv = originNames[hl[8] - 1];
    else rv = (hl[d] as number).toFixed(1);
    txt(x, 373, rv, RED);
    // T caps
    ln(x - 3, P_TOP + 0.5, x + 3, P_TOP + 0.5, AXIS);
    ln(x - 3, H - P_BOTTOM + 0.5, x + 3, H - P_BOTTOM + 0.5, AXIS);
  });

  // horizontal cursor line
  ln(13, 200.5, 703, 200.5, '#222');

  // brush triangles
  brushRanges.forEach((r, d) => {
    if (!r) return;
    const x = axX(d);
    const yh = yOf(d, r[1]);
    const yl = yOf(d, r[0]);
    poly([[x - 6.5, yh - 8], [x + 6.5, yh - 8], [x, yh]], RED);
    poly([[x, yl], [x - 6.5, yl + 8], [x + 6.5, yl + 8]], RED);
  });

  // window chrome (strips only, so the plot stays visible)
  rc(0, 0, 9, H, '#ffffff');
  rc(9, 7, 3.5, H, '#dedede');
  ln(9.5, 7, 9.5, H, '#8a8a8a');
  ln(12.5, 22.5, 12.5, H, '#222');
  rc(9, 7, W, 15.5, '#dedede');
  ln(9, 7.5, W, 7.5, '#8a8a8a');
  ln(12, 22.5, W, 22.5, '#222');
  for (let y = 11; y <= 19; y += 2) {
    ln(23, y + 0.5, 757, y + 0.5, '#8c8c8c');
    ln(23, y + 1.5, 757, y + 1.5, '#ffffff');
  }
  rc(320, 9, 163, 13, '#dedede');
  txt(401.5, 15.5, 'Parallel Coordinate Explorer', '#000', 'center', `bold 10px ${FONT}`);
  rc(12.5, 10.5, 8, 8, '#d6d6d6', '#333');
  ln(13.5, 11.5, 19.5, 11.5, '#fff');
  rc(759.5, 10.5, 8, 8, '#d6d6d6', '#333');
  rc(759.5, 10.5, 5, 5, 'none', '#333');
  rc(770.5, 10.5, 8, 8, '#d6d6d6', '#333');

  // right panel
  const PANEL_FONT = `8px ${FONT}`;
  sideButtons.forEach((b, i) => {
    const y = 29.5 + i * 18;
    rc(710.5, y + 1, 48, 13, '#808080', undefined, 3);
    rc(709.5, y, 48, 13, '#e2e2e2', '#111', 3);
    txt(733.5, y + 6.5, b, '#000', 'center', PANEL_FONT);
  });
  sidePanelChecks.forEach((c, i) => {
    const y = 68.5 + i * 20;
    rc(709.5, y, 10, 10, '#cfcfcf', '#333');
    ln(710.5, y + 1, 718.5, y + 1, '#f4f4f4');
    if (c.checked) g.push({ type: 'polyline', z: 101, silent: true, shape: { points: [[711, y + 4], [714, y + 8], [721, y - 2]] }, style: { stroke: '#000', lineWidth: 1.6, fill: 'none' } });
    txt(723, y + 5, c.label, '#000', 'left', PANEL_FONT);
  });
  txt(709, 153, 'Combiner', '#000', 'left', PANEL_FONT);
  rc(710.5, 167.5, 53, 15, '#808080', undefined, 3);
  rc(709.5, 166.5, 53, 15, '#e2e2e2', '#111', 3);
  ln(745.5, 168, 745.5, 181, '#666');
  poly([[750, 172.5], [756, 172.5], [753, 169.5]], '#000');
  poly([[750, 176.5], [756, 176.5], [753, 179.5]], '#000');
  txt(716, 174, combinerValue, '#000', 'left', PANEL_FONT);
  txt(712, 217, `Lines    : ${N}`, '#000', 'left', PANEL_FONT);
  txt(712, 228, `Selected: ${selCount}`, '#000', 'left', PANEL_FONT);
  txt(712, 239, `Selected: ${Math.floor((selCount / N) * 100)}%`, '#000', 'left', PANEL_FONT);
  rc(769.5, 386.5, 10, 14, '#d6d6d6', '#444');

  const lineSeries = (data: number[][], color: string, z: number) => ({
    type: 'parallel', data, z, silent: true, smooth: false, progressive: 0,
    lineStyle: { color, width: 1, opacity: 1 },
    emphasis: { disabled: true },
  });

  const hiddenAxisParts = {
    axisLine: { show: true, lineStyle: { color: AXIS, width: 1 } },
    axisTick: { show: false, length: 0, lineStyle: { opacity: 0 } },
    axisLabel: { show: false, color: 'rgba(0,0,0,0)', formatter: () => '' },
    splitLine: { show: false },
    nameTextStyle: { color: 'rgba(0,0,0,0)' },
  };

  return {
    animation: false,
    backgroundColor: '#ffffff',
    parallel: {
      left: P_LEFT, right: P_RIGHT, top: P_TOP, bottom: P_BOTTOM, layout: 'horizontal', z: 5,
      parallelAxisDefault: { ...hiddenAxisParts, name: '' },
    },
    parallelAxis: dimensionNames.map((_, d) => ({
      dim: d, name: '', min: mins[d], max: maxs[d], z: 5, ...hiddenAxisParts,
    })),
    series: [lineSeries(gray, GRAY, 1), lineSeries(blue, BLUE, 6), lineSeries(red, RED, 7)],
    graphic: { elements: g },
  };
}

export default function App() {
  const ref = useRef<HTMLDivElement>(null);
  useEffect(() => {
    if (!ref.current) return;
    const chart = echarts.init(ref.current, undefined, { renderer: 'svg' });
    chart.setOption(buildOption() as any);
    return () => chart.dispose();
  }, []);
  return <div ref={ref} style={{ position: 'fixed', left: 0, top: 0, width: W, height: H }} />;
}
